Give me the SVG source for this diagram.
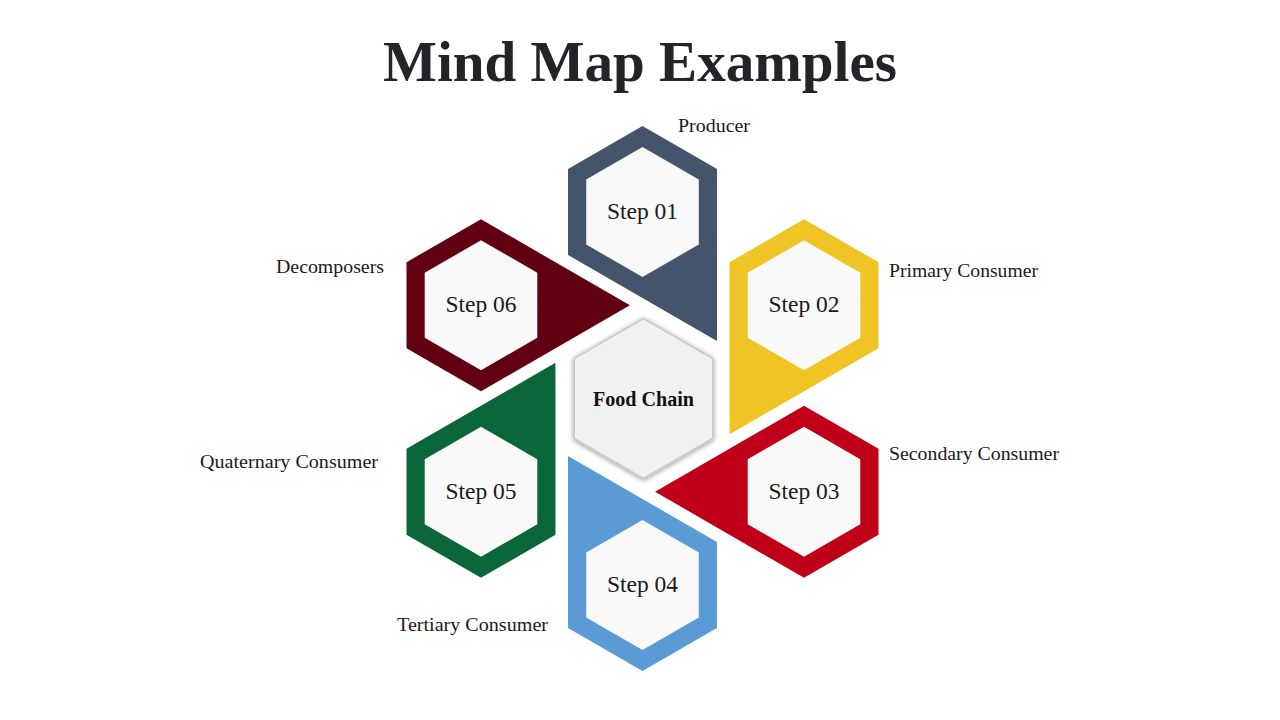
<svg xmlns="http://www.w3.org/2000/svg" xmlns:xlink="http://www.w3.org/1999/xlink" width="1280" height="720" viewBox="0 0 1280 720">
  <style>
    .title { font-family: "Liberation Serif", "DejaVu Serif", serif; font-weight: bold; font-size: 57px; fill: #232427; }
    .step { font-family: "Liberation Serif", "DejaVu Serif", serif; font-size: 23.5px; fill: #1a1a1a; text-anchor: middle; }
    .lbl { font-family: "Liberation Serif", "DejaVu Serif", serif; font-size: 19px; fill: #1a1a1a; }
    .center-t { font-family: "Liberation Serif", "DejaVu Serif", serif; font-weight: bold; font-size: 20px; fill: #111; text-anchor: middle; }
    .inner { fill: #F9F9F9; }
  </style>
  <defs>
    <path id="petal" d="M0,-272.5 L74.48,-229.5 L74.48,-57.5 L-74.48,-143.5 L-74.48,-229.5 Z"/>
    <polygon id="hexIn" points="0,-65 56.29,-32.5 56.29,32.5 0,65 -56.29,32.5 -56.29,-32.5"/>
    <filter id="shadow" x="-20%" y="-20%" width="140%" height="140%">
      <feGaussianBlur in="SourceAlpha" stdDeviation="2.5"/>
      <feOffset dx="0" dy="1" result="b"/>
      <feComponentTransfer><feFuncA type="linear" slope="0.45"/></feComponentTransfer>
      <feMerge><feMergeNode/><feMergeNode in="SourceGraphic"/></feMerge>
    </filter>
  </defs>
  <rect width="1280" height="720" fill="#FFFFFF"/>

  <text class="title" x="640" y="81" text-anchor="middle" textLength="514" lengthAdjust="spacingAndGlyphs">Mind Map Examples</text>

  <g id="step01">
    <use xlink:href="#petal" transform="translate(642.5,398.5) rotate(0)" fill="#44546A"/>
    <use xlink:href="#hexIn" class="inner" x="642.5" y="212"/>
    <text class="step" x="642.5" y="219">Step 01</text>
    <text class="lbl" x="678" y="132" textLength="72" lengthAdjust="spacingAndGlyphs">Producer</text>
  </g>
  <g id="step02">
    <use xlink:href="#petal" transform="translate(642.5,398.5) rotate(60)" fill="#F0C424"/>
    <use xlink:href="#hexIn" class="inner" x="804" y="305.25"/>
    <text class="step" x="804" y="312">Step 02</text>
    <text class="lbl" x="889" y="277" textLength="149" lengthAdjust="spacingAndGlyphs">Primary Consumer</text>
  </g>
  <g id="step03">
    <use xlink:href="#petal" transform="translate(642.5,398.5) rotate(120)" fill="#C00018"/>
    <use xlink:href="#hexIn" class="inner" x="804" y="491.75"/>
    <text class="step" x="804" y="499">Step 03</text>
    <text class="lbl" x="889" y="460" textLength="170" lengthAdjust="spacingAndGlyphs">Secondary Consumer</text>
  </g>
  <g id="step04">
    <use xlink:href="#petal" transform="translate(642.5,398.5) rotate(180)" fill="#5B9BD5"/>
    <use xlink:href="#hexIn" class="inner" x="642.5" y="585"/>
    <text class="step" x="642.5" y="592">Step 04</text>
    <text class="lbl" x="397" y="631" textLength="151" lengthAdjust="spacingAndGlyphs">Tertiary Consumer</text>
  </g>
  <g id="step05">
    <use xlink:href="#petal" transform="translate(642.5,398.5) rotate(240)" fill="#0B663A"/>
    <use xlink:href="#hexIn" class="inner" x="481" y="491.75"/>
    <text class="step" x="481" y="499">Step 05</text>
    <text class="lbl" x="200" y="468" textLength="178" lengthAdjust="spacingAndGlyphs">Quaternary Consumer</text>
  </g>
  <g id="step06">
    <use xlink:href="#petal" transform="translate(642.5,398.5) rotate(300)" fill="#600010"/>
    <use xlink:href="#hexIn" class="inner" x="481" y="305.25"/>
    <text class="step" x="481" y="312">Step 06</text>
    <text class="lbl" x="276" y="273" textLength="108" lengthAdjust="spacingAndGlyphs">Decomposers</text>
  </g>

  <g id="center">
    <polygon points="643.5,318.5 712.78,358.5 712.78,438.5 643.5,478.5 574.22,438.5 574.22,358.5" fill="#F1F1F1" stroke="#C9C9C9" stroke-width="1.5" filter="url(#shadow)"/>
    <text class="center-t" x="643.5" y="406" textLength="101" lengthAdjust="spacingAndGlyphs">Food Chain</text>
  </g>

  <g id="connectors"></g>
</svg>
